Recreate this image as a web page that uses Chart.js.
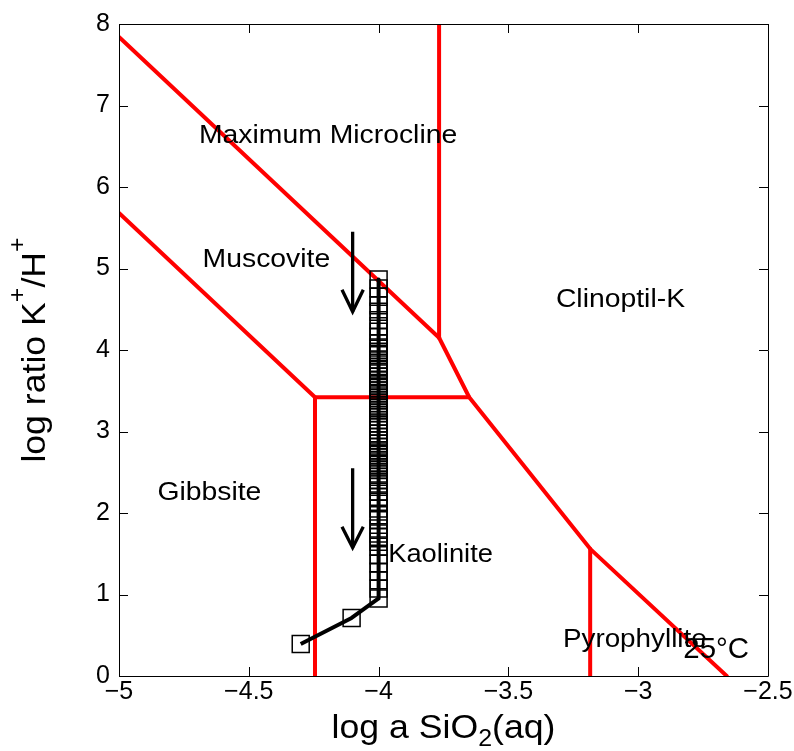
<!DOCTYPE html>
<html>
<head>
<meta charset="utf-8">
<script src="https://cdn.jsdelivr.net/npm/chart.js@4.4.1/dist/chart.umd.min.js"></script>
<style>
  html, body { margin: 0; padding: 0; background: #fff; }
  #wrap { width: 794px; height: 751px; }
</style>
</head>
<body>
<div id="wrap"><canvas id="myChart"></canvas></div>
<script>
// reaction path, log a SiO2(aq) vs log K+/H+
const pathX = [
  -4.0, -4.0, -4.0, -4.0, -4.0, -4.0, -4.0, -4.0, -4.0, -4.0,
  -4.0, -4.0, -4.0, -4.0, -4.0, -4.0, -4.0, -4.0, -4.0, -4.0,
  -4.0, -4.0, -4.0, -4.0, -4.0, -4.0, -4.0, -4.0, -4.0, -4.0,
  -4.0, -4.0, -4.0, -4.0, -4.0, -4.0, -4.0, -4.0, -4.0, -4.0,
  -4.0, -4.0, -4.0, -4.0, -4.0, -4.0, -4.0, -4.0, -4.0, -4.0,
  -4.0, -4.0, -4.0, -4.0, -4.0, -4.0, -4.0, -4.0, -4.0, -4.0,
  -4.0, -4.0, -4.0, -4.0, -4.0, -4.0, -4.0, -4.0, -4.0, -4.0,
  -4.0, -4.0, -4.0, -4.0, -4.104, -4.30
];
const pathY = [
  4.865, 4.755, 4.653, 4.550, 4.469, 4.366, 4.292, 4.223, 4.162, 4.080,
  4.031, 3.978, 3.936, 3.883, 3.843, 3.794, 3.752, 3.712, 3.671, 3.626,
  3.595, 3.564, 3.534, 3.503, 3.472, 3.442, 3.411, 3.380, 3.350, 3.319,
  3.288, 3.258, 3.227, 3.180, 3.139, 3.098, 3.058, 3.016, 2.975, 2.935,
  2.893, 2.853, 2.812, 2.771, 2.742, 2.712, 2.681, 2.650, 2.620, 2.589,
  2.558, 2.528, 2.485, 2.444, 2.402, 2.362, 2.321, 2.260, 2.199, 2.137,
  2.055, 1.973, 1.912, 1.810, 1.748, 1.708, 1.647, 1.585, 1.482, 1.380,
  1.279, 1.175, 1.074, 0.951, 0.712, 0.393
];

// stability field boundaries (25 C)
const microMuscX = [-5.0, -3.767];
const microMuscY = [7.84, 4.15];
const microClinoX = [-3.767, -3.767];
const microClinoY = [8.0, 4.15];
const clinoEdgeX = [-3.767, -3.651, -3.185, -2.659];
const clinoEdgeY = [4.15, 3.42, 1.56, 0.0];
const muscGibbX = [-5.0, -4.245, -3.651];
const muscGibbY = [5.68, 3.42, 3.42];
const gibbKaolX = [-4.245, -4.245];
const gibbKaolY = [3.42, 0.0];
const kaolPyroX = [-3.185, -3.185];
const kaolPyroY = [1.56, 0.0];

// direction arrows
const arrowUpperX = [-4.1, -4.1];
const arrowUpperY = [5.45, 4.47];
const headUpperX = [-4.141, -4.1, -4.059];
const headUpperY = [4.74, 4.47, 4.74];
const arrowLowerX = [-4.1, -4.1];
const arrowLowerY = [2.55, 1.575];
const headLowerX = [-4.141, -4.1, -4.059];
const headLowerY = [1.83, 1.575, 1.83];

// field names
const regionNames = ['Maximum Microcline', 'Muscovite', 'Clinoptil-K', 'Gibbsite', 'Kaolinite', 'Pyrophyllite', '25\u00b0C'];
const regionX = [-4.692, -4.678, -3.317, -4.852, -3.963, -3.290, -2.826];
const regionY = [6.544, 5.022, 4.524, 2.160, 1.402, 0.360, 0.217];
const regionSize = [26, 26, 26, 26, 26, 26, 30];
const regionStretch = [1.09, 1.09, 1.09, 1.09, 1.05, 1.07, 0.98];

const xTicks = [-5, -4.5, -4, -3.5, -3, -2.5];
const yTicks = [0, 1, 2, 3, 4, 5, 6, 7, 8];

const FONT = '"Liberation Sans", Arial, Helvetica, sans-serif';

const toPoints = (xs, ys) => xs.map((x, i) => ({ x: x, y: ys[i] }));

const redLine = (xs, ys) => ({
  data: toPoints(xs, ys),
  showLine: true,
  borderColor: '#ff0000',
  borderWidth: 4,
  borderJoinStyle: 'round',
  borderCapStyle: 'round',
  pointRadius: 0,
  order: 2
});

const blackLine = (xs, ys) => ({
  data: toPoints(xs, ys),
  showLine: true,
  borderColor: '#000000',
  borderWidth: 3.3,
  borderJoinStyle: 'miter',
  pointRadius: 0,
  order: 1
});

function drawRich(ctx, parts, size, sx) {
  // parts: [{t, sub, sup}] drawn on baseline 0, centred on 0
  const widths = parts.map(p => {
    ctx.font = ((p.sub || p.sup) ? size * 0.7 : size) + 'px ' + FONT;
    return ctx.measureText(p.t).width;
  });
  const total = widths.reduce((a, b) => a + b, 0);
  ctx.save();
  ctx.scale(sx, 1);
  let x = -total / 2;
  parts.forEach((p, i) => {
    ctx.font = ((p.sub || p.sup) ? size * 0.7 : size) + 'px ' + FONT;
    const dy = p.sub ? size * 0.25 : (p.sup ? -size * 0.6 : 0);
    ctx.fillText(p.t, x, dy);
    x += widths[i];
  });
  ctx.restore();
}

const framePlugin = {
  id: 'frame',
  afterDatasetsDraw(chart) {
    const ctx = chart.ctx;
    const a = chart.chartArea;
    const xs = chart.scales.x;
    const ys = chart.scales.y;
    const tl = 9;
    ctx.save();
    ctx.strokeStyle = '#000';
    ctx.lineWidth = 1;
    ctx.beginPath();
    ctx.rect(Math.round(a.left) + 0.5, Math.round(a.top) + 0.5,
             Math.round(a.right - a.left), Math.round(a.bottom - a.top));
    xTicks.forEach(v => {
      const px = Math.round(xs.getPixelForValue(v)) + 0.5;
      ctx.moveTo(px, a.bottom); ctx.lineTo(px, a.bottom - tl);
      ctx.moveTo(px, a.top); ctx.lineTo(px, a.top + tl);
    });
    yTicks.forEach(v => {
      const py = Math.round(ys.getPixelForValue(v)) + 0.5;
      ctx.moveTo(a.left, py); ctx.lineTo(a.left + tl, py);
      ctx.moveTo(a.right, py); ctx.lineTo(a.right - tl, py);
    });
    ctx.stroke();

    // field labels
    ctx.fillStyle = '#000';
    ctx.textAlign = 'left';
    ctx.textBaseline = 'alphabetic';
    regionNames.forEach((name, i) => {
      ctx.save();
      ctx.translate(xs.getPixelForValue(regionX[i]), ys.getPixelForValue(regionY[i]));
      ctx.scale(regionStretch[i], 1);
      ctx.font = regionSize[i] + 'px ' + FONT;
      ctx.fillText(name, 0, 0);
      ctx.restore();
    });

    // axis titles
    ctx.save();
    ctx.translate((a.left + a.right) / 2, 738);
    drawRich(ctx, [{ t: 'log a SiO' }, { t: '2', sub: true }, { t: '(aq)' }], 33, 1.08);
    ctx.restore();

    ctx.save();
    ctx.translate(45, (a.top + a.bottom) / 2);
    ctx.rotate(-Math.PI / 2);
    drawRich(ctx, [{ t: 'log ratio K' }, { t: '+', sup: true }, { t: '/H' }, { t: '+', sup: true }], 33, 1.08);
    ctx.restore();
    ctx.restore();
  }
};

const config = {
  type: 'scatter',
  data: {
    datasets: [
      {
        data: toPoints(pathX, pathY),
        showLine: true,
        borderColor: '#000000',
        borderWidth: 4,
        borderJoinStyle: 'round',
        pointStyle: 'rect',
        pointRadius: 12,
        pointBorderWidth: 1.5,
        pointBorderColor: '#000000',
        pointBackgroundColor: 'rgba(0,0,0,0)',
        order: 0
      },
      blackLine(arrowUpperX, arrowUpperY),
      blackLine(headUpperX, headUpperY),
      blackLine(arrowLowerX, arrowLowerY),
      blackLine(headLowerX, headLowerY),
      redLine(microMuscX, microMuscY),
      redLine(microClinoX, microClinoY),
      redLine(clinoEdgeX, clinoEdgeY),
      redLine(muscGibbX, muscGibbY),
      redLine(gibbKaolX, gibbKaolY),
      redLine(kaolPyroX, kaolPyroY)
    ]
  },
  options: {
    responsive: true,
    maintainAspectRatio: false,
    animation: false,
    layout: { padding: { top: 24, right: 26, left: 0, bottom: 0 } },
    plugins: {
      legend: { display: false },
      tooltip: { enabled: false }
    },
    scales: {
      x: {
        type: 'linear',
        min: -5,
        max: -2.5,
        afterFit: s => { s.height = 75; },
        afterBuildTicks: s => { s.ticks = xTicks.map(v => ({ value: v })); },
        grid: { display: false, drawTicks: false },
        border: { display: false },
        ticks: {
          autoSkip: false,
          padding: 1,
          color: '#000',
          font: { family: FONT, size: 25 },
          callback: v => String(v).replace('-', '\u2212')
        }
      },
      y: {
        type: 'linear',
        min: 0,
        max: 8,
        afterFit: s => { s.width = 119; },
        afterBuildTicks: s => { s.ticks = yTicks.map(v => ({ value: v })); },
        grid: { display: false, drawTicks: false },
        border: { display: false },
        ticks: {
          autoSkip: false,
          padding: 9,
          color: '#000',
          font: { family: FONT, size: 25 }
        }
      }
    }
  },
  plugins: [framePlugin]
};

const myChart = new Chart(document.getElementById('myChart'), config);
</script>
</body>
</html>
